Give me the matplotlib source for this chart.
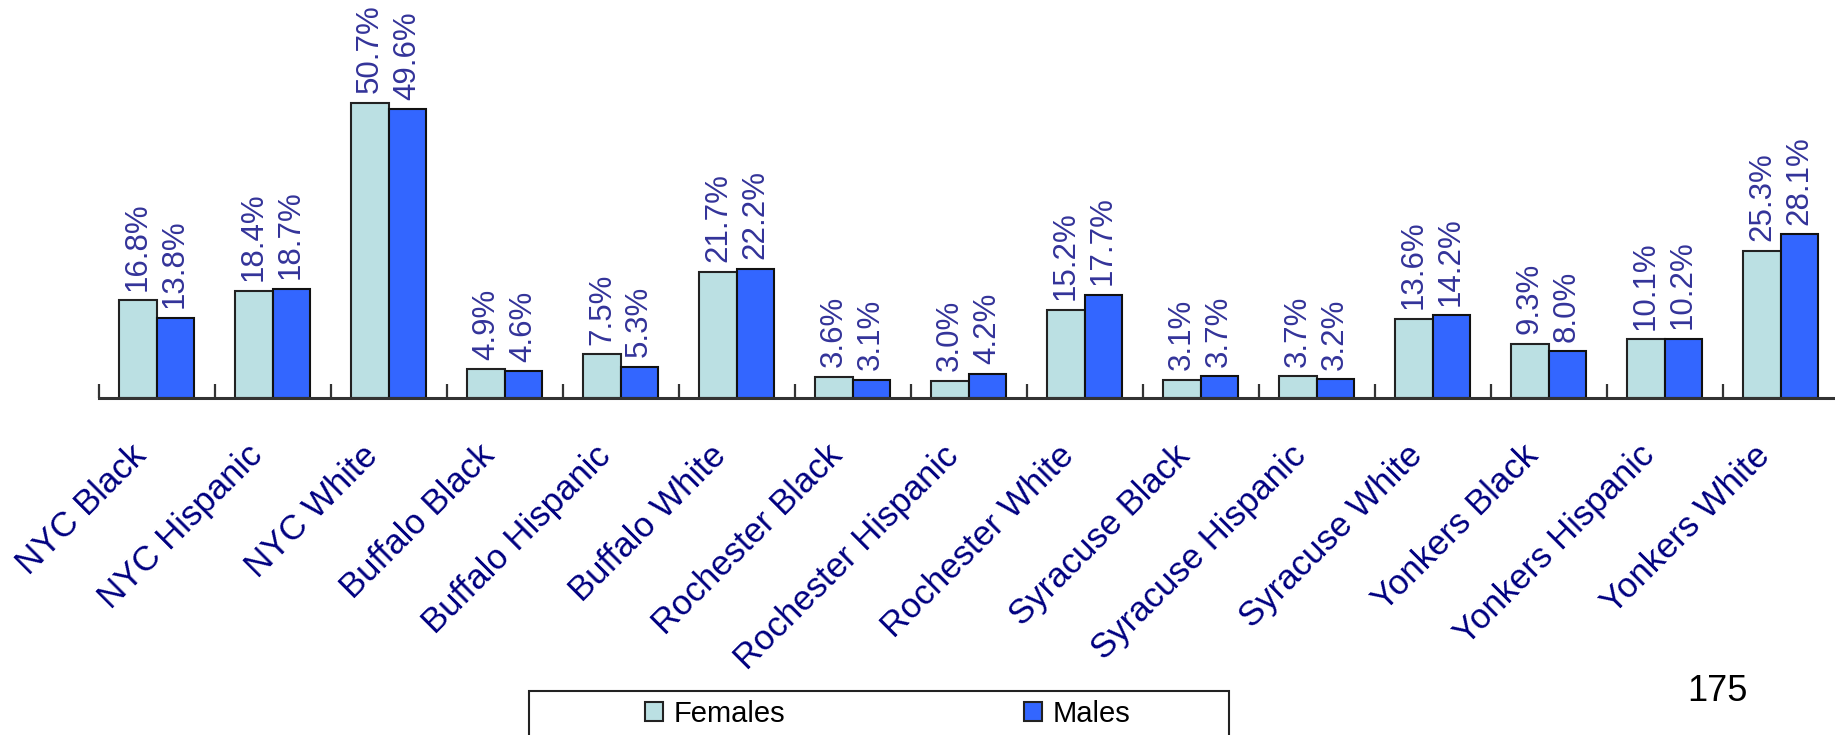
import matplotlib.pyplot as plt
import matplotlib.transforms as mtransforms
from matplotlib.patches import Patch, Rectangle
import numpy as np

plt.rcParams["font.family"] = ["Liberation Sans", "DejaVu Sans"]

categories = [
    "NYC Black", "NYC Hispanic", "NYC White",
    "Buffalo Black", "Buffalo Hispanic", "Buffalo White",
    "Rochester Black", "Rochester Hispanic", "Rochester White",
    "Syracuse Black", "Syracuse Hispanic", "Syracuse White",
    "Yonkers Black", "Yonkers Hispanic", "Yonkers White",
]
females = [16.8, 18.4, 50.7, 4.9, 7.5, 21.7, 3.6, 3.0, 15.2, 3.1, 3.7, 13.6, 9.3, 10.1, 25.3]
males = [13.8, 18.7, 49.6, 4.6, 5.3, 22.2, 3.1, 4.2, 17.7, 3.7, 3.2, 14.2, 8.0, 10.2, 28.1]
series_names = ["Females", "Males"]
page_number = "175"

FEMALE_COLOR = "#BBE0E3"
MALE_COLOR = "#3366FF"
LABEL_COLOR = "#333399"
TICK_COLOR = "#000080"

W, H = 1835, 735
fig = plt.figure(figsize=(W / 100, H / 100), dpi=100)
ax = fig.add_axes([98.5 / W, 1 - 398 / H, 1740 / W, 398 / H])

x = np.arange(len(categories))
width = 0.32
bars_f = ax.bar(x - width / 2, females, width, color=FEMALE_COLOR, edgecolor="#222222", linewidth=1.5)
bars_m = ax.bar(x + width / 2, males, width, color=MALE_COLOR, edgecolor="#111111", linewidth=1.5)

for bars, vals in ((bars_f, females), (bars_m, males)):
    for rect, v in zip(bars, vals):
        ax.annotate(f"{v:.1f}%", (rect.get_x() + rect.get_width() / 2, rect.get_height()),
                    xytext=(0, 7), textcoords="offset points", rotation=90,
                    ha="center", va="bottom", fontsize=22.5, color=LABEL_COLOR)

ax.set_xlim(-0.5, len(categories) - 0.5)
ax.set_ylim(0, 68.4)
for side in ("top", "right", "left"):
    ax.spines[side].set_visible(False)
ax.spines["bottom"].set_color("#333333")
ax.spines["bottom"].set_linewidth(2.2)
ax.set_yticks([])
ax.set_xticks(np.arange(len(categories) + 1) - 0.5)
ax.set_xticklabels([])
ax.tick_params(axis="x", direction="in", length=10, width=1.6, color="#333333")

# category names sit diagonally under each group
trans = mtransforms.offset_copy(ax.get_xaxis_transform(), fig=fig, x=-27, y=-41, units="dots")
for i, name in enumerate(categories):
    ax.text(i, 0, name, transform=trans, rotation=45, rotation_mode="anchor",
            ha="right", va="top", fontsize=25, color=TICK_COLOR, clip_on=False)

handles = [Patch(facecolor=FEMALE_COLOR, edgecolor="#222222", linewidth=1.5),
           Patch(facecolor=MALE_COLOR, edgecolor="#222222", linewidth=1.5)]
fig.legend(handles, series_names, loc="center left", bbox_to_anchor=(645 / W, 1 - 714 / H),
           ncol=2, frameon=False, fontsize=21, handlelength=0.62, handleheight=0.65,
           handletextpad=0.35, columnspacing=8.2, borderpad=0, borderaxespad=0)
fig.add_artist(Rectangle((529 / W, -0.1), (1229 - 529) / W, 0.1 + 1 - 691 / H,
                         transform=fig.transFigure, fill=False, edgecolor="#222222",
                         linewidth=1.5, clip_on=False))

fig.text(1748 / W, 1 - 701 / H, page_number, ha="right", va="baseline", fontsize=26, color="black")

fig.savefig("out.png", dpi=100)
